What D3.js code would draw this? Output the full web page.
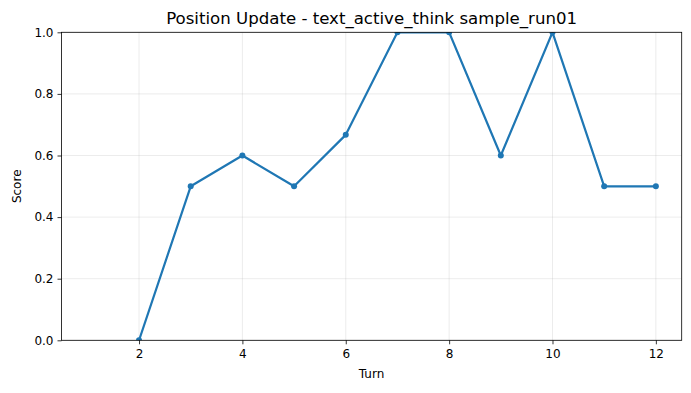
<!doctype html>
<html>
<head>
<meta charset="utf-8" />
<title>Position Update</title>
<script src="https://cdn.jsdelivr.net/npm/d3@7"></script>
<style>
  html,body{margin:0;background:#fff}
  body{font-family:"DejaVu Sans", sans-serif}
  svg text{fill:#000}
</style>
</head>
<body>
<svg id="chart" width="691" height="393"></svg>
<script>
const turns  = [2, 3, 4, 5, 6, 7, 8, 9, 10, 11, 12];
const scores = [0, 0.5, 0.6, 0.5, 0.667, 1.0, 1.0, 0.6, 1.0, 0.5, 0.5];
const xTicks = [2, 4, 6, 8, 10, 12];
const yTicks = [0, 0.2, 0.4, 0.6, 0.8, 1.0];

const W = 691, H = 393;
const m = {left: 61.5, right: 9.3, top: 32.3, bottom: 52.7};
const svg = d3.select('#chart');

const x = d3.scaleLinear().domain([0.5, 12.5]).range([m.left, W - m.right]);
const y = d3.scaleLinear().domain([0, 1]).range([H - m.bottom, m.top]);

// grid
const grid = svg.append('g').attr('stroke', '#b0b0b0').attr('stroke-opacity', 0.3).attr('stroke-width', 0.8);
grid.selectAll('.gx').data(xTicks).join('line')
  .attr('x1', d => x(d)).attr('x2', d => x(d)).attr('y1', m.top).attr('y2', H - m.bottom);
grid.selectAll('.gy').data(yTicks).join('line')
  .attr('y1', d => y(d)).attr('y2', d => y(d)).attr('x1', m.left).attr('x2', W - m.right);

// clip
svg.append('clipPath').attr('id', 'clip').append('rect')
  .attr('x', m.left).attr('y', m.top).attr('width', W - m.left - m.right).attr('height', H - m.top - m.bottom);

const pts = turns.map((t, i) => [t, scores[i]]);
const plot = svg.append('g').attr('clip-path', 'url(#clip)');
plot.append('path').datum(pts)
  .attr('fill', 'none').attr('stroke', '#1f77b4').attr('stroke-width', 2.2)
  .attr('stroke-linejoin', 'round').attr('stroke-linecap', 'square')
  .attr('d', d3.line().x(d => x(d[0])).y(d => y(d[1])));
plot.selectAll('circle').data(pts).join('circle')
  .attr('cx', d => x(d[0])).attr('cy', d => y(d[1])).attr('r', 3).attr('fill', '#1f77b4');

// axes
const fs = '12px';
const xAxis = svg.append('g').attr('transform', `translate(0,${H - m.bottom})`)
  .call(d3.axisBottom(x).tickValues(xTicks).tickSize(4).tickPadding(5).tickSizeOuter(0));
const yAxis = svg.append('g').attr('transform', `translate(${m.left},0)`)
  .call(d3.axisLeft(y).tickValues(yTicks).tickFormat(d3.format('.1f')).tickSize(4).tickPadding(4).tickSizeOuter(0));
[xAxis, yAxis].forEach(a => {
  a.selectAll('text').attr('font-family', '"DejaVu Sans", sans-serif').style('font-size', fs).attr('fill', '#000');
  a.selectAll('line').attr('stroke', '#000').attr('stroke-width', 0.8);
  a.select('.domain').remove();
});

// frame
svg.append('rect').attr('x', m.left).attr('y', m.top)
  .attr('width', W - m.left - m.right).attr('height', H - m.top - m.bottom)
  .attr('fill', 'none').attr('stroke', '#000').attr('stroke-width', 0.8);

// labels
svg.append('text').attr('x', (m.left + W - m.right) / 2).attr('y', 24)
  .attr('text-anchor', 'middle').style('font-size', '16.6px')
  .text('Position Update - text_active_think sample_run01');
svg.append('text').attr('x', (m.left + W - m.right) / 2).attr('y', 378)
  .attr('text-anchor', 'middle').style('font-size', fs).text('Turn');
svg.append('text').attr('transform', `translate(21,${(m.top + H - m.bottom) / 2}) rotate(-90)`)
  .attr('text-anchor', 'middle').style('font-size', fs).text('Score');
</script>
</body>
</html>
